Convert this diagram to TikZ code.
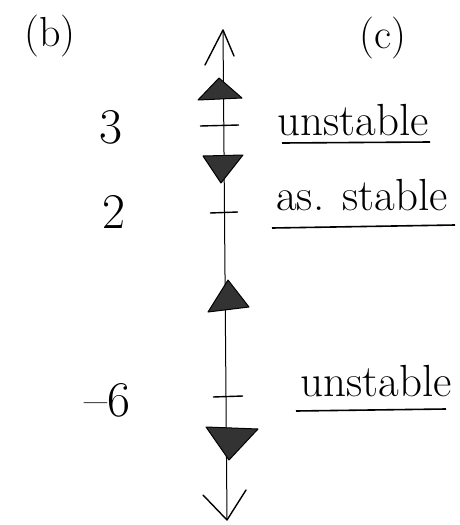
\documentclass[tikz,border=0pt]{standalone}
\usepackage{fontspec}
\usetikzlibrary{arrows.meta}
\begin{document}
\begin{tikzpicture}[x=1pt,y=-1pt,
  axis/.style={line width=1pt, black},
  tickmark/.style={line width=1.4pt, black},
  tri/.style={draw=black, fill=black!80, line width=1pt, line join=round},
  head/.style={line width=1.4pt, black, line cap=round, line join=round},
  lbl/.style={font=\fontsize{42}{46}\selectfont, inner sep=0pt},
  num/.style={font=\fontsize{50}{54}\selectfont, inner sep=0pt},
  word/.style={font=\fontsize{45}{49}\selectfont, inner sep=0pt},
  uline/.style={line width=1.6pt, black}]
\useasboundingbox (0,0) rectangle (459,525);
% axis
\coordinate (top) at (223,30);
\coordinate (bot) at (227,520);
\draw[axis] (top) -- (bot);
% arrow heads
\draw[head] (205,65) -- (top) -- (234,56);
\draw[head] (203,495) -- (bot) -- (246,490);
% triangles
\draw[tri] (219,78) -- (242,98) -- (198,100) -- cycle;
\draw[tri] (203,156) -- (243,155) -- (221,183) -- cycle;
\draw[tri] (228,280) -- (249,307) -- (208,312) -- cycle;
\draw[tri] (206,427) -- (258,429) -- (229,460) -- cycle;
% ticks
\draw[tickmark] (200,126) -- (239,125);
\draw[tickmark] (210,213) -- (238,212);
\draw[tickmark] (213,397) -- (243,396);
% left labels
\node[lbl] (b) at (50,36) {(b)};
\node[lbl] (c) at (383,38) {(c)};
\node[num] (n3) at (111,127) {3};
\node[num] (n2) at (114,212) {2};
\node[num] (nm6) at (107,400) {–6};
% right labels
\node[word, anchor=base] (u1) at (353,135) {unstable};
\draw[uline] (282,143) -- (430,142);
\node[word, anchor=base] (as) at (362,210) {as. stable};
\draw[uline] (272,228) -- (455,225);
\node[word, anchor=base] (u2) at (376,396) {unstable};
\draw[uline] (296,411) -- (446,409);
\end{tikzpicture}
\end{document}
